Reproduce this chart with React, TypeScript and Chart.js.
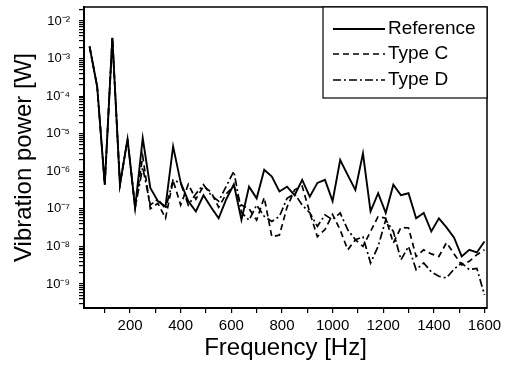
import React, { useEffect, useRef } from 'react';
import { Chart, registerables } from 'chart.js';

Chart.register(...registerables);

const FONT = '"Liberation Sans", Arial, Helvetica, sans-serif';

// Frequency axis [Hz]
const frequency = [
  40, 70, 100, 130, 160, 190, 220, 250, 280, 310, 340, 370, 400, 430, 460, 490, 520, 550,
  580, 610, 640, 670, 700, 730, 760, 790, 820, 850, 880, 910, 940, 970, 1000, 1030, 1060,
  1090, 1120, 1150, 1180, 1210, 1240, 1270, 1300, 1330, 1360, 1390, 1420, 1450, 1480, 1510,
  1540, 1570, 1600,
];

// Vibration power [W]
const referencePower = [
  2.1e-3, 1.8e-4, 4.4e-7, 3.6e-3, 4.4e-7, 7.2e-6, 1.07e-7, 7.6e-6, 3.6e-7, 1.6e-7, 1.15e-7,
  4.6e-6, 5.0e-7, 1.6e-7, 8.5e-8, 2.3e-7, 1.1e-7, 5.6e-8, 1.8e-7, 4.5e-7, 5.1e-8, 3.9e-7,
  1.9e-7, 1.1e-6, 7.2e-7, 2.9e-7, 3.9e-7, 2.3e-7, 5.9e-7, 2.1e-7, 4.9e-7, 5.9e-7, 1.6e-7,
  2.0e-6, 7.9e-7, 3.2e-7, 3.0e-6, 8.5e-8, 2.6e-7, 7.8e-8, 4.4e-7, 2.3e-7, 2.6e-7, 5.6e-8,
  7.8e-8, 2.5e-8, 5.6e-8, 3.2e-8, 1.7e-8, 5.4e-9, 8.1e-9, 6.9e-9, 1.35e-8,
];

const typeCPower = [
  2.1e-3, 1.8e-4, 4.4e-7, 3.6e-3, 4.4e-7, 7.2e-6, 1.07e-7, 2.5e-6, 1.0e-7, 1.4e-7, 5.6e-8,
  5.6e-7, 1.26e-7, 4.5e-7, 1.8e-7, 4.0e-7, 2.8e-7, 1.1e-7, 2.5e-7, 4.0e-7, 1.26e-7, 1.0e-7,
  5.0e-8, 2.0e-7, 1.8e-8, 2.0e-8, 1.1e-7, 3.2e-7, 4.0e-7, 7.9e-8, 1.8e-8, 2.8e-8, 7.1e-8,
  2.75e-8, 8.1e-9, 1.5e-8, 1.0e-8, 2.5e-8, 6.3e-8, 5.6e-8, 1.23e-8, 3.2e-8, 3.1e-8, 5.4e-9,
  8.1e-9, 6.3e-9, 5.4e-9, 1.26e-8, 6.3e-9, 3.2e-9, 4.0e-9, 6.0e-9, 8.1e-9,
];

const typeDPower = [
  2.1e-3, 1.8e-4, 4.4e-7, 3.6e-3, 4.4e-7, 7.2e-6, 1.07e-7, 1.26e-6, 1.26e-7, 1.8e-7, 1.0e-7,
  5.9e-7, 4.8e-7, 1.26e-7, 2.5e-7, 4.4e-7, 2.3e-7, 1.6e-7, 4.0e-7, 1.0e-6, 7.9e-8, 5.0e-8,
  1.26e-7, 6.3e-8, 4.6e-8, 6.3e-8, 1.9e-7, 2.5e-7, 1.26e-7, 7.8e-8, 3.4e-8, 6.9e-8, 5.1e-8,
  7.8e-8, 2.75e-8, 1.5e-8, 1.8e-8, 3.6e-9, 1.0e-8, 5.1e-8, 2.5e-8, 4.4e-9, 1.0e-8, 2.4e-9,
  3.6e-9, 2.1e-9, 1.6e-9, 1.45e-9, 2.5e-9, 3.6e-9, 2.4e-9, 2.6e-9, 5.1e-10,
];

const seriesLabels = ['Reference', 'Type C', 'Type D'];

// Tick values
const xTickValues = [100, 200, 300, 400, 500, 600, 700, 800, 900, 1000, 1100, 1200, 1300, 1400, 1500, 1600];
const xLabelledTicks = [200, 400, 600, 800, 1000, 1200, 1400, 1600];
const yDecadeExponents = [-10, -9, -8, -7, -6, -5, -4, -3, -2];
const yMantissas = [1, 2, 3, 4, 5, 6, 7, 8, 9];

const X_MIN = 18;
const X_MAX = 1610;
const Y_MIN = 2.29e-10;
const Y_MAX = 2.36e-2;

const SUP: Record<string, string> = {
  '-': '\u207B', '0': '\u2070', '1': '\u00B9', '2': '\u00B2', '3': '\u00B3', '4': '\u2074',
  '5': '\u2075', '6': '\u2076', '7': '\u2077', '8': '\u2078', '9': '\u2079',
};
const toSup = (s: string) => s.split('').map((c) => SUP[c] || c).join('');

const framePlugin = {
  id: 'frameBox',
  afterDatasetsDraw(chart: any) {
    const { ctx, chartArea } = chart;
    ctx.save();
    ctx.strokeStyle = '#000';
    ctx.lineWidth = 1.5;
    ctx.strokeRect(chartArea.left, chartArea.top, chartArea.right - chartArea.left, chartArea.bottom - chartArea.top);
    ctx.restore();
  },
};

const legendPlugin = {
  id: 'boxLegend',
  afterDraw(chart: any) {
    const { ctx, chartArea } = chart;
    const w = 164;
    const h = 91;
    const x0 = chartArea.right - w;
    const y0 = chartArea.top;
    ctx.save();
    ctx.fillStyle = '#fff';
    ctx.fillRect(x0, y0, w, h);
    ctx.strokeStyle = '#000';
    ctx.lineWidth = 1.2;
    ctx.strokeRect(x0, y0, w, h);
    const rows = [22, 47, 73];
    chart.data.datasets.forEach((ds: any, i: number) => {
      const y = y0 + rows[i];
      ctx.beginPath();
      ctx.setLineDash(ds.borderDash || []);
      ctx.lineWidth = ds.borderWidth;
      ctx.strokeStyle = ds.borderColor;
      ctx.moveTo(x0 + 10, y);
      ctx.lineTo(x0 + 62, y);
      ctx.stroke();
      ctx.setLineDash([]);
      ctx.fillStyle = '#000';
      ctx.font = `19px ${FONT}`;
      ctx.textBaseline = 'middle';
      ctx.textAlign = 'left';
      ctx.fillText(ds.label, x0 + 65, y);
    });
    ctx.restore();
  },
};

export default function App() {
  const canvasRef = useRef<HTMLCanvasElement | null>(null);

  useEffect(() => {
    if (!canvasRef.current) return;
    const mk = (arr: number[]) => frequency.map((f, i) => ({ x: f, y: arr[i] }));
    const chart = new Chart(canvasRef.current, {
      type: 'line',
      data: {
        datasets: [
          { label: seriesLabels[0], data: mk(referencePower), borderColor: '#000', borderWidth: 1.9, pointRadius: 0, tension: 0, fill: false },
          { label: seriesLabels[1], data: mk(typeCPower), borderColor: '#000', borderWidth: 1.7, borderDash: [6, 4], pointRadius: 0, tension: 0, fill: false },
          { label: seriesLabels[2], data: mk(typeDPower), borderColor: '#000', borderWidth: 1.7, borderDash: [8, 3, 2, 3], pointRadius: 0, tension: 0, fill: false },
        ],
      },
      options: {
        responsive: false,
        animation: false,
        devicePixelRatio: 1,
        layout: { padding: { top: 7, right: 18, left: 0, bottom: 0 } },
        plugins: { legend: { display: false }, tooltip: { enabled: false } },
        scales: {
          x: {
            type: 'linear',
            min: X_MIN,
            max: X_MAX,
            afterBuildTicks: (scale: any) => {
              scale.ticks = xTickValues.map((v) => ({ value: v }));
            },
            afterFit: (scale: any) => {
              scale.height = 57;
              scale.paddingLeft = 0;
              scale.paddingRight = 0;
            },
            ticks: {
              color: '#000',
              padding: 4,
              maxRotation: 0,
              autoSkip: false,
              font: { family: FONT, size: 15 },
              callback: (v: any) => (xLabelledTicks.includes(Number(v)) ? String(v) : ''),
            },
            grid: { drawOnChartArea: false, drawTicks: true, tickLength: 5, color: '#000', lineWidth: 1.2 },
            border: { display: true, color: '#000', width: 2 },
            title: { display: true, text: 'Frequency [Hz]', color: '#000', font: { family: FONT, size: 24 }, padding: { top: 0, bottom: 2 } },
          },
          y: {
            type: 'logarithmic',
            min: Y_MIN,
            max: Y_MAX,
            afterBuildTicks: (scale: any) => {
              const ticks: any[] = [];
              yDecadeExponents.forEach((e) => {
                yMantissas.forEach((m) => {
                  const v = m * Math.pow(10, e);
                  if (v >= Y_MIN && v <= Y_MAX) ticks.push({ value: v });
                });
              });
              scale.ticks = ticks;
            },
            afterFit: (scale: any) => {
              scale.width = 84;
              scale.paddingTop = 0;
              scale.paddingBottom = 0;
            },
            ticks: {
              color: '#000',
              padding: 9,
              autoSkip: false,
              font: { family: FONT, size: 13 },
              callback: (v: any) => {
                const l = Math.log10(Number(v));
                const r = Math.round(l);
                if (Math.abs(l - r) < 1e-6) return '10' + toSup(String(r));
                return '';
              },
            },
            grid: { drawOnChartArea: false, drawTicks: true, tickLength: 5, color: '#000', lineWidth: 1.2 },
            border: { display: true, color: '#000', width: 2 },
            title: { display: true, text: 'Vibration power [W]', color: '#000', font: { family: FONT, size: 24 }, padding: { top: 10, bottom: 0 } },
          },
        },
      },
      plugins: [framePlugin, legendPlugin],
    } as any);
    return () => chart.destroy();
  }, []);

  return (
    <div style={{ position: 'fixed', left: 0, top: 0, width: 505, height: 365, background: '#fff' }}>
      <canvas ref={canvasRef} width={505} height={365} style={{ display: 'block', width: 505, height: 365 }} />
    </div>
  );
}
